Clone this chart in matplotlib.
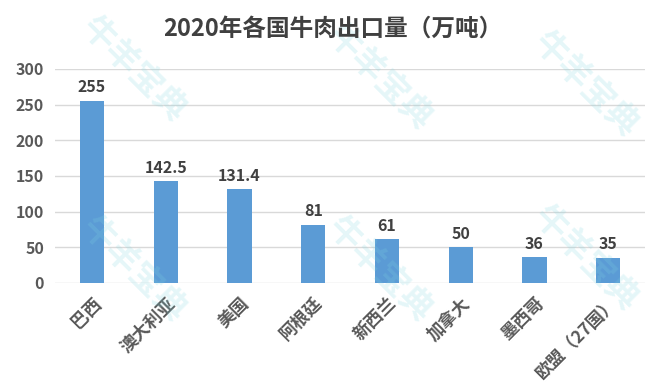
#!/usr/bin/env python3

import matplotlib
matplotlib.use('Agg')
import matplotlib.pyplot as plt

plt.rcParams['font.family'] = ['Noto Sans CJK SC', 'DejaVu Sans']

countries = ['巴西', '澳大利亚', '美国', '阿根廷', '新西兰', '加拿大', '墨西哥', '欧盟（27国）']
exports = [255, 142.5, 131.4, 81, 61, 50, 36, 35]
value_labels = ['255', '142.5', '131.4', '81', '61', '50', '36', '35']
y_ticks = [0, 50, 100, 150, 200, 250, 300]


def main():
    fig = plt.figure(figsize=(6.65, 3.85), dpi=100)
    ax = fig.add_axes([0.083, 0.265, 0.887, 0.556])

    x = range(len(countries))
    ax.bar(x, exports, width=0.33, color='#5b9bd5', zorder=3)
    for i, (v, lab) in enumerate(zip(exports, value_labels)):
        ax.text(i, v + 8, lab, ha='center', va='bottom', fontsize=11.5,
                fontweight='bold', color='#404040')

    ax.set_xlim(-0.5, len(countries) - 0.5)
    ax.set_ylim(0, 300)
    ax.set_yticks(y_ticks)
    ax.set_yticklabels([str(t) for t in y_ticks], fontsize=11.5,
                       fontweight='bold', color='#595959')
    ax.set_xticks(list(x))
    ax.set_xticklabels(countries, rotation=45, ha='right',
                       rotation_mode='anchor', fontsize=12.5,
                       fontweight='bold', color='#595959')
    ax.tick_params(length=0, pad=8)
    ax.grid(axis='y', color='#d9d9d9', linewidth=1, zorder=0)
    for s in ax.spines.values():
        s.set_visible(False)
    ax.set_axisbelow(True)

    fig.text(0.5, 0.925, '2020年各国牛肉出口量（万吨）', ha='center', va='center',
             fontsize=17, fontweight='bold', color='#404040')

    # faint watermark
    for wx, wy in [(0.2, 0.82), (0.57, 0.8), (0.88, 0.78),
                   (0.2, 0.3), (0.57, 0.3), (0.88, 0.33)]:
        fig.text(wx, wy, '牛羊宝典', ha='center', va='center', fontsize=24,
                 fontweight='bold', color='#7fd6e0', alpha=0.2,
                 rotation=-45, zorder=0)

    fig.savefig('out.png', dpi=100)
    return 0


if __name__ == "__main__":
    exit(main())
